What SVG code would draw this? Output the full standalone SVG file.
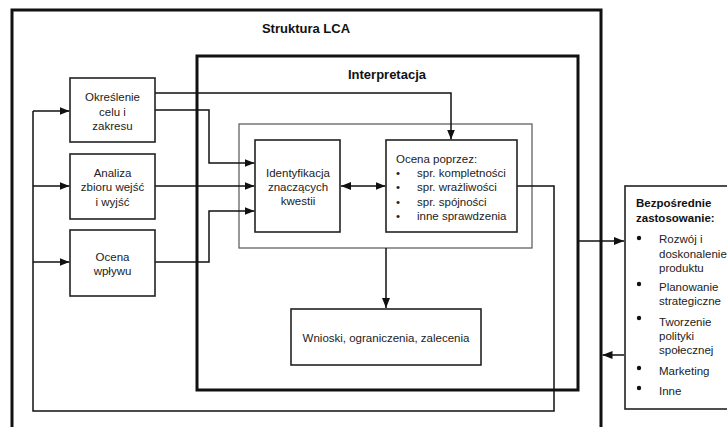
<svg xmlns="http://www.w3.org/2000/svg" width="727" height="427" viewBox="0 0 727 427">
<style>
text{font-family:"Liberation Sans",Arial,sans-serif;font-size:11.5px;fill:#222}
.b{font-weight:bold;font-size:13px;fill:#111}
.bs{font-weight:bold;font-size:11.5px;fill:#111}
.m{text-anchor:middle}
.thick{fill:none;stroke:#111;stroke-width:3}
.box{fill:#fff;stroke:#222;stroke-width:1.6}
.inner{fill:none;stroke:#555;stroke-width:1.2}
.c{fill:none;stroke:#111;stroke-width:1.5}
.dot{fill:#111}
</style>
<defs>
<marker id="ar" viewBox="0 0 10 8" refX="10" refY="4" markerWidth="10" markerHeight="8" markerUnits="userSpaceOnUse" orient="auto-start-reverse">
<path d="M0,0L10,4L0,8z" fill="#111"/>
</marker>
</defs>
<rect width="727" height="427" fill="#fff"/>
<g id="struktura">
<rect class="thick" x="12" y="10" width="589" height="430"/>
<text class="b m" x="306" y="33">Struktura LCA</text>
</g>
<g id="interpretacja">
<rect class="thick" x="197" y="56" width="381" height="334"/>
<text class="b m" x="387" y="79">Interpretacja</text>
</g>
<g id="grupa">
<rect class="inner" x="239" y="124" width="293" height="124"/>
</g>
<g id="connectors">
<path class="c" d="M155,93H451V139.5" marker-end="url(#ar)"/>
<path class="c" d="M155,110H209V163H254.5" marker-end="url(#ar)"/>
<path class="c" d="M155,186H254.5" marker-end="url(#ar)"/>
<path class="c" d="M155,262H209V211H254.5" marker-end="url(#ar)"/>
<path class="c" d="M341,186H385.5" marker-start="url(#ar)" marker-end="url(#ar)"/>
<path class="c" d="M517,186H554V411H33V111"/>
<path class="c" d="M33,111H69.5" marker-end="url(#ar)"/>
<path class="c" d="M33,186H69.5" marker-end="url(#ar)"/>
<path class="c" d="M33,262H69.5" marker-end="url(#ar)"/>
<path class="c" d="M386,248V308" marker-end="url(#ar)"/>
<path class="c" d="M579,241H624" marker-end="url(#ar)"/>
<path class="c" d="M624,355H602.5" marker-end="url(#ar)"/>
</g>
<g id="okreslenie">
<rect class="box" x="70" y="78" width="85" height="64"/>
<text class="m" x="112.5" y="101">Określenie</text>
<text class="m" x="112.5" y="116">celu i</text>
<text class="m" x="112.5" y="130">zakresu</text>
</g>
<g id="analiza">
<rect class="box" x="70" y="154" width="85" height="65"/>
<text class="m" x="112.5" y="177">Analiza</text>
<text class="m" x="112.5" y="191">zbioru wejść</text>
<text class="m" x="112.5" y="206">i wyjść</text>
</g>
<g id="ocena-wplywu">
<rect class="box" x="70" y="230" width="85" height="66"/>
<text class="m" x="112.5" y="261">Ocena</text>
<text class="m" x="112.5" y="275">wpływu</text>
</g>
<g id="identyfikacja">
<rect class="box" x="255" y="140" width="85" height="92"/>
<text class="m" x="298" y="177">Identyfikacja</text>
<text class="m" x="298" y="191">znaczących</text>
<text class="m" x="298" y="205">kwestii</text>
</g>
<g id="ocena-poprzez">
<rect class="box" x="386" y="140" width="131" height="92"/>
<text x="396" y="163">Ocena poprzez:</text>
<text x="396" y="177">•</text><text x="417" y="177">spr. kompletności</text>
<text x="396" y="191">•</text><text x="417" y="191">spr. wrażliwości</text>
<text x="396" y="206">•</text><text x="417" y="206">spr. spójności</text>
<text x="396" y="220">•</text><text x="417" y="220">inne sprawdzenia</text>
</g>
<g id="wnioski">
<rect class="box" x="291" y="309" width="190" height="56"/>
<text class="m" x="386" y="342">Wnioski, ograniczenia, zalecenia</text>
</g>
<g id="bezposrednie">
<rect class="box" x="625" y="186" width="110" height="223"/>
<text class="bs" x="636" y="207">Bezpośrednie</text>
<text class="bs" x="636" y="222">zastosowanie:</text>
<circle class="dot" cx="639" cy="238" r="2.2"/><text x="659" y="243">Rozwój i</text>
<text x="659" y="258">doskonalenie</text>
<text x="659" y="272">produktu</text>
<circle class="dot" cx="639" cy="284" r="2.2"/><text x="659" y="291">Planowanie</text>
<text x="659" y="305">strategiczne</text>
<circle class="dot" cx="639" cy="318" r="2.2"/><text x="659" y="326">Tworzenie</text>
<text x="659" y="340">polityki</text>
<text x="659" y="354">społecznej</text>
<circle class="dot" cx="639" cy="368" r="2.2"/><text x="659" y="375">Marketing</text>
<circle class="dot" cx="639" cy="388" r="2.2"/><text x="659" y="395">Inne</text>
</g>
</svg>
